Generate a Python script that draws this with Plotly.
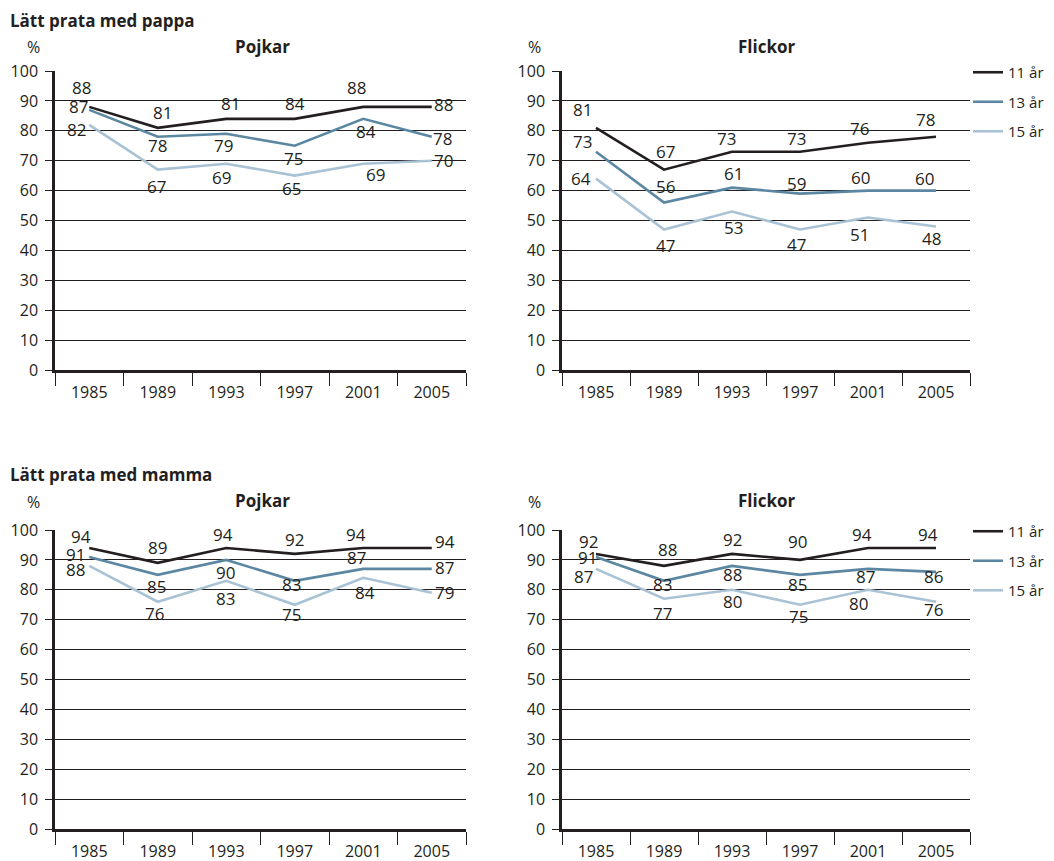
import plotly.graph_objects as go

# page is drawn with an 8px body margin; figure fills the rest of the 1054x861 window
OFF = 8
FW, FH = 1054 - OFF, 861 - OFF

years = ["1985", "1989", "1993", "1997", "2001", "2005"]
ages = ["11 år", "13 år", "15 år"]

# Lätt prata med pappa – Pojkar
pappa_pojkar_11 = [88, 81, 84, 84, 88, 88]
pappa_pojkar_13 = [87, 78, 79, 75, 84, 78]
pappa_pojkar_15 = [82, 67, 69, 65, 69, 70]
pappa_pojkar_11_text = ["88", "81", "81", "84", "88", "88"]  # as printed in source

# Lätt prata med pappa – Flickor
pappa_flickor_11 = [81, 67, 73, 73, 76, 78]
pappa_flickor_13 = [73, 56, 61, 59, 60, 60]
pappa_flickor_15 = [64, 47, 53, 47, 51, 48]

# Lätt prata med mamma – Pojkar
mamma_pojkar_11 = [94, 89, 94, 92, 94, 94]
mamma_pojkar_13 = [91, 85, 90, 83, 87, 87]
mamma_pojkar_15 = [88, 76, 83, 75, 84, 79]

# Lätt prata med mamma – Flickor
mamma_flickor_11 = [92, 88, 92, 90, 94, 94]
mamma_flickor_13 = [91, 83, 88, 85, 87, 86]
mamma_flickor_15 = [87, 77, 80, 75, 80, 76]

# ---- styling ----
colors = ["#231f20", "#5b87a2", "#a9c2d4"]
INK = "#231f20"
FONT = "Open Sans"
LABEL_SIZE = 17
TICK_SIZE = 16
TITLE_SIZE = 17

# label offsets in pixels from each point (dx right, dy down)
panels = [
    dict(ax="", vals=[pappa_pojkar_11, pappa_pojkar_13, pappa_pojkar_15],
         texts=[pappa_pojkar_11_text, None, None],
         dx=[[-8, 5, 4, 0, -7, 12], [-11, 0, -3, -1, 3, 11], [-13, -1, -5, -3, 12, 12]],
         dy=[[-19, -15, -15, -15, -19, -2], [-3, 9, 12, 13, 13, 2], [5, 17, 14, 13, 11, 0]],
         legend=None),
    dict(ax="2", vals=[pappa_flickor_11, pappa_flickor_13, pappa_flickor_15],
         texts=[None, None, None],
         dx=[[-14, 1, -6, -4, -9, -11], [-14, 1, 1, -4, -8, -12], [-15, 1, 1, -4, -9, -5]],
         dy=[[-18, -18, -13, -13, -14, -17], [-10, -16, -14, -10, -13, -12], [0, 16, 16, 15, 17, 12]],
         legend="legend"),
    dict(ax="3", vals=[mamma_pojkar_11, mamma_pojkar_13, mamma_pojkar_15],
         texts=[None, None, None],
         dx=[[-8, 0, -3, 0, -7, 13], [-14, -1, -1, -3, -7, 13], [-14, -3, -1, -3, 2, 13]],
         dy=[[-11, -15, -13, -14, -13, -6], [-2, 12, 13, 4, -11, -1], [4, 12, 18, 10, 15, 0]],
         legend=None),
    dict(ax="4", vals=[mamma_flickor_11, mamma_flickor_13, mamma_flickor_15],
         texts=[None, None, None],
         dx=[[-8, 3, 0, -3, -6, -8], [-9, -2, 0, -3, -3, -3], [-13, -2, 0, -2, -10, -3]],
         dy=[[-12, -16, -14, -18, -13, -13], [1, 4, 9, 10, 8, 5], [8, 15, 12, 12, 14, 8]],
         legend="legend2"),
]

fig = go.Figure()
for p in panels:
    for i, vals in enumerate(p["vals"]):
        fig.add_trace(go.Scatter(
            x=years, y=vals, mode="lines",
            line=dict(color=colors[i], width=2.6),
            name=ages[i],
            legendgroup=ages[i] + (p["legend"] or ""),
            showlegend=p["legend"] is not None,
            legend=p["legend"] or "legend",
            hoverinfo="skip",
            xaxis="x" + p["ax"], yaxis="y" + p["ax"],
        ))
        txt = p["texts"][i] or [str(v) for v in vals]
        for j, v in enumerate(vals):
            # category axis: position by category index
            fig.add_annotation(
                x=j, y=v, xref="x" + p["ax"], yref="y" + p["ax"],
                text=txt[j], showarrow=False,
                xanchor="center", yanchor="middle",
                xshift=p["dx"][i][j], yshift=-p["dy"][i][j],
                font=dict(family=FONT, size=LABEL_SIZE, color=INK),
            )

def px_x(v):
    return (v - OFF) / FW

def px_y(v):
    return 1 - (v - OFF) / FH

xdom_left = [px_x(55), px_x(466)]
xdom_right = [px_x(562), px_x(970)]
ydom_top = [px_y(370), px_y(71)]
ydom_bot = [px_y(829), px_y(530)]

xcommon = dict(type="category", categoryorder="array", categoryarray=years,
               range=[-0.5, 5.5], tickson="boundaries", ticks="outside",
               ticklen=13, tickwidth=1, tickcolor=INK, showgrid=False,
               showline=True, linewidth=3, linecolor=INK, zeroline=False,
               automargin=False, ticklabelstandoff=6,
               tickfont=dict(family=FONT, size=TICK_SIZE, color=INK), fixedrange=True)
ycommon = dict(range=[0, 100], dtick=10, tick0=0, showgrid=True, gridcolor=INK,
               gridwidth=1, ticks="outside", ticklen=7, tickwidth=1, tickcolor=INK,
               showline=True, linewidth=2.5, linecolor=INK, zeroline=False,
               automargin=False,
               tickfont=dict(family=FONT, size=TICK_SIZE, color=INK), fixedrange=True,
               ticklabelstandoff=4)

legend_common = dict(xanchor="left", yanchor="top",
                     font=dict(family=FONT, size=15, color=INK), tracegroupgap=7,
                     bgcolor="rgba(0,0,0,0)", borderwidth=0, itemwidth=30)

fig.update_layout(
    width=FW, height=FH,
    margin=dict(l=0, r=0, t=0, b=0, autoexpand=False),
    paper_bgcolor="white", plot_bgcolor="white",
    font=dict(family=FONT, color=INK),
    xaxis=dict(domain=xdom_left, anchor="y", **xcommon),
    yaxis=dict(domain=ydom_top, anchor="x", **ycommon),
    xaxis2=dict(domain=xdom_right, anchor="y2", **xcommon),
    yaxis2=dict(domain=ydom_top, anchor="x2", **ycommon),
    xaxis3=dict(domain=xdom_left, anchor="y3", **xcommon),
    yaxis3=dict(domain=ydom_bot, anchor="x3", **ycommon),
    xaxis4=dict(domain=xdom_right, anchor="y4", **xcommon),
    yaxis4=dict(domain=ydom_bot, anchor="x4", **ycommon),
    legend=dict(x=px_x(968), y=px_y(56), **legend_common),
    legend2=dict(x=px_x(968), y=px_y(515), **legend_common),
    showlegend=True,
)

def note(text, x, y, size=TITLE_SIZE, bold=False, xanchor="left"):
    fig.add_annotation(text=f"<b>{text}</b>" if bold else text,
                       x=px_x(x), y=px_y(y), xref="paper", yref="paper",
                       xanchor=xanchor, yanchor="middle", showarrow=False,
                       font=dict(family=FONT, size=size, color=INK))

note("Lätt prata med pappa", 8, 20, bold=True)
note("%", 25, 47, size=16)
note("Pojkar", 262, 46, bold=True, xanchor="center")
note("%", 526, 47, size=16)
note("Flickor", 767, 46, bold=True, xanchor="center")

note("Lätt prata med mamma", 8, 475, bold=True)
note("%", 25, 502, size=16)
note("Pojkar", 262, 500, bold=True, xanchor="center")
note("%", 526, 502, size=16)
note("Flickor", 767, 500, bold=True, xanchor="center")

fig.write_html("out.html")
